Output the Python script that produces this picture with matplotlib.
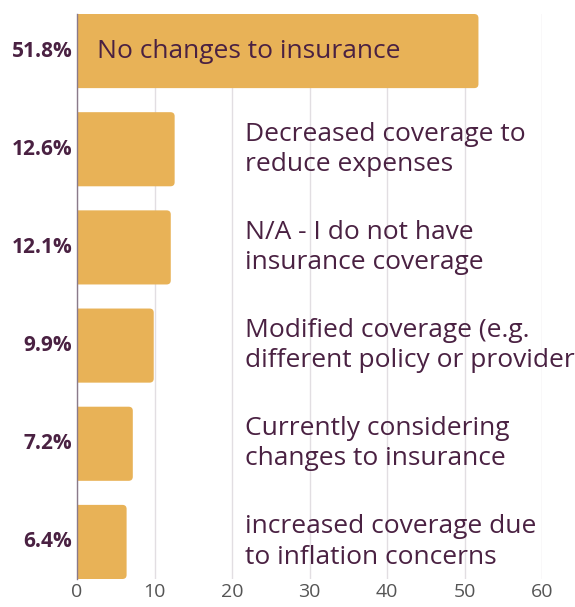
import matplotlib.pyplot as plt
from matplotlib.patches import FancyBboxPatch

plt.rcParams['font.family'] = ['Open Sans', 'DejaVu Sans']

# survey responses, top to bottom
labels = [
    "No changes to insurance",
    "Decreased coverage to\nreduce expenses",
    "N/A - I do not have\ninsurance coverage",
    "Modified coverage (e.g.\ndifferent policy or provider",
    "Currently considering\nchanges to insurance",
    "increased coverage due\nto inflation concerns",
]
values = [51.8, 12.6, 12.1, 9.9, 7.2, 6.4]
xticks = [0, 10, 20, 30, 40, 50, 60]

bar_color = '#E8B257'
text_color = '#4A2142'
bar_h = 0.755

fig = plt.figure(figsize=(5.75, 6.07), dpi=100)
ax = fig.add_axes([77 / 575, 28 / 607, 465 / 575, 565 / 607])

ax.set_xlim(0, 60)
ax.set_ylim(len(values) - 1 + bar_h / 2, -bar_h / 2)

# bars with rounded right ends; left end starts off-axis so it gets clipped square
r = 0.55
for i, v in enumerate(values):
    box = FancyBboxPatch((-2, i - bar_h / 2), v + 2, bar_h,
                         boxstyle=f"round,pad=0,rounding_size={r}",
                         mutation_aspect=0.075,
                         fc=bar_color, ec='none', zorder=2)
    ax.add_patch(box)

for i, (lab, v) in enumerate(zip(labels, values)):
    x = 2.6 if i == 0 else 21.7
    ax.text(x, i, lab, va='center', ha='left', fontsize=19,
            color=text_color, linespacing=1.28, zorder=3, clip_on=False)
    ax.text(-0.6, i, f"{v}%", va='center', ha='right', fontsize=15,
            fontweight='bold', color=text_color, transform=ax.transData)

ax.set_xticks(xticks)
ax.set_yticks([])
ax.tick_params(axis='x', length=0, labelsize=14, labelcolor='#555555', pad=3)
ax.grid(axis='x', color='#E2DEE2', lw=1, zorder=0)
ax.set_axisbelow(True)
for s in ['top', 'right', 'bottom']:
    ax.spines[s].set_visible(False)
ax.spines['left'].set_color('#8A7A8A')
ax.spines['left'].set_linewidth(1)
ax.spines['left'].set_zorder(4)

fig.savefig('out.png', dpi=100)
